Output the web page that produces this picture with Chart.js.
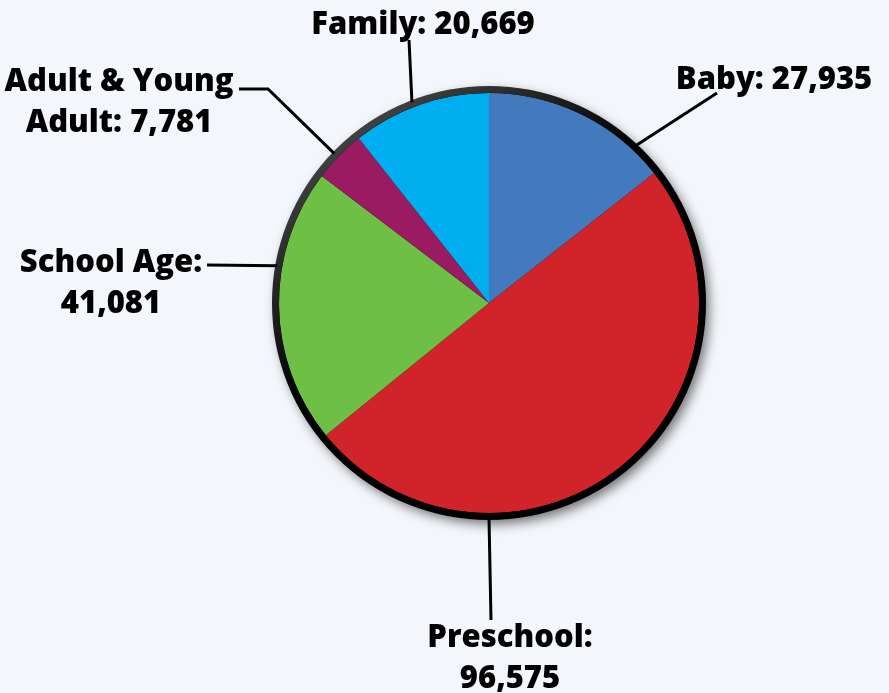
<!DOCTYPE html>
<html>
<head>
<meta charset="utf-8">
<script src="https://cdn.jsdelivr.net/npm/chart.js@4/dist/chart.umd.min.js"></script>
<style>
  html, body { margin: 0; padding: 0; background: #f3f6fb; }
  #wrap { width: 889px; height: 693px; }
</style>
</head>
<body>
<div id="wrap"><canvas id="pie" width="889" height="693"></canvas></div>
<script>
// data
const categories = ['Baby', 'Preschool', 'School Age', 'Adult & Young Adult', 'Family'];
const counts = [27935, 96575, 41081, 7781, 20669];
const sliceColors = ['#4379bd', '#d0232a', '#6dbf45', '#9a1b62', '#00adef'];

/*
  callout layout, one per slice: angle (deg from top, clockwise) where the leader
  leaves the rim, the bend/end points of the leader, text centre and first baseline
*/
const callouts = [
  { angle: 43, path: [[717, 93]], tx: 774, ty: 89, breakAfter: null },
  { angle: 180, path: [[491, 620]], tx: 510, ty: 647, breakAfter: ':' },
  { angle: -80, path: [[207, 265]], tx: 111, ty: 272, breakAfter: ':' },
  { angle: -46, path: [[268, 89], [239, 89]], tx: 119, ty: 91, breakAfter: 'Young' },
  { angle: -21, path: [[409, 40]], tx: 423, ty: 34, breakAfter: null }
];

const FONT = '800 31px "Open Sans", Lato, sans-serif';
const LINE_H = 41;

function labelLines(i) {
  const full = categories[i] + ': ' + counts[i].toLocaleString('en-US');
  const b = callouts[i].breakAfter;
  if (!b) return [full];
  const k = full.indexOf(b) + b.length;
  return [full.slice(0, k), full.slice(k).trim()];
}

// soft shadow under the disc + dark rim over it
const rimPlugin = {
  id: 'rim',
  beforeDatasetsDraw(chart) {
    const arc = chart.getDatasetMeta(0).data[0];
    const ctx = chart.ctx;
    ctx.save();
    ctx.shadowColor = 'rgba(0,0,0,0.55)';
    ctx.shadowBlur = 12;
    ctx.shadowOffsetX = 4;
    ctx.shadowOffsetY = 5;
    ctx.beginPath();
    ctx.arc(arc.x, arc.y, arc.outerRadius + 6, 0, Math.PI * 2);
    ctx.fillStyle = '#000';
    ctx.fill();
    ctx.restore();
  },
  afterDatasetsDraw(chart) {
    const arc = chart.getDatasetMeta(0).data[0];
    const ctx = chart.ctx;
    const r = arc.outerRadius;
    ctx.save();
    const g = ctx.createLinearGradient(arc.x - r * 0.6, arc.y - r, arc.x, arc.y - r * 0.2);
    g.addColorStop(0, '#4a4a4a');
    g.addColorStop(1, '#000');
    ctx.beginPath();
    ctx.arc(arc.x, arc.y, r + 3.5, 0, Math.PI * 2);
    ctx.lineWidth = 7;
    ctx.strokeStyle = g;
    ctx.stroke();
    ctx.restore();
  }
};

// leader lines and the bold labels
const calloutPlugin = {
  id: 'callouts',
  afterDraw(chart) {
    const arc = chart.getDatasetMeta(0).data[0];
    const ctx = chart.ctx;
    ctx.save();
    ctx.strokeStyle = '#000';
    ctx.lineWidth = 3;
    callouts.forEach((c, i) => {
      const a = c.angle * Math.PI / 180;
      const r = arc.outerRadius + 5;
      ctx.beginPath();
      ctx.moveTo(arc.x + r * Math.sin(a), arc.y - r * Math.cos(a));
      c.path.forEach(p => ctx.lineTo(p[0], p[1]));
      ctx.stroke();
    });
    ctx.fillStyle = '#000';
    ctx.font = FONT;
    ctx.textAlign = 'center';
    ctx.textBaseline = 'alphabetic';
    callouts.forEach((c, i) => {
      labelLines(i).forEach((t, j) => ctx.fillText(t, c.tx, c.ty + j * LINE_H));
    });
    ctx.restore();
  }
};

new Chart(document.getElementById('pie'), {
  type: 'pie',
  data: {
    labels: categories,
    datasets: [{
      data: counts,
      backgroundColor: sliceColors,
      borderWidth: 0
    }]
  },
  options: {
    responsive: false,
    animation: false,
    layout: { padding: { top: 93, bottom: 180, left: 279, right: 190 } },
    plugins: {
      legend: { display: false },
      tooltip: { enabled: false }
    }
  },
  plugins: [rimPlugin, calloutPlugin]
});
</script>
</body>
</html>
